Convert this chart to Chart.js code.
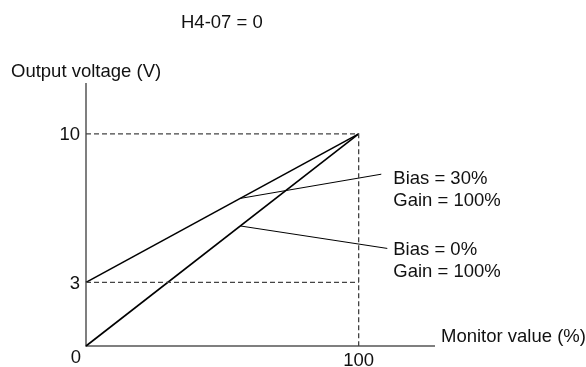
<!DOCTYPE html>
<html lang="en">
<head>
<meta charset="UTF-8">
<title>H4-07 = 0</title>
<script src="https://cdn.jsdelivr.net/npm/chart.js@4.4.1/dist/chart.umd.min.js"></script>
<style>
  body { margin: 0; background: #fff; }
  #wrap { width: 586px; height: 367px; }
</style>
</head>
<body>
<div id="wrap"><canvas id="myChart"></canvas></div>
<script>
// data
const monitorPct = [0, 100];        // x (%)
const bias30Volt = [3, 10];         // y (V), bias 30%
const bias0Volt = [0, 10];          // y (V), bias 0%
const yTicks = [0, 3, 10];
const xTicks = [100];
const labels30 = ['Bias = 30%', 'Gain = 100%'];
const labels0 = ['Bias = 0%', 'Gain = 100%'];
// leader lines: from a point on the curve out to the label
const leader30 = [[56.6, 6.96], [108.3, 8.1]];
const leader0 = [[56.6, 5.66], [110.5, 4.6]];
const xMax = 128, yMax = 12.4;

const FONT = '18.5px "Liberation Sans", Arial, sans-serif';
const toXY = (xs, ys) => xs.map((x, i) => ({ x: x, y: ys[i] }));
const ptsXY = pts => pts.map(p => ({ x: p[0], y: p[1] }));

const lineStyle = (data, color, width, dash) => ({
  data: data,
  borderColor: color,
  borderWidth: width,
  borderDash: dash || [],
  pointRadius: 0,
  showLine: true,
  fill: false,
  tension: 0,
  clip: false
});

const textPlugin = {
  id: 'texts',
  beforeDatasetsDraw(chart) {
    const ctx = chart.ctx;
    const xs = chart.scales.x, ys = chart.scales.y;
    const x0 = xs.getPixelForValue(0), y0 = ys.getPixelForValue(0);
    ctx.save();
    ctx.strokeStyle = '#555';
    ctx.lineWidth = 1.5;
    ctx.beginPath();
    ctx.moveTo(x0, ys.getPixelForValue(yMax));
    ctx.lineTo(x0, y0);
    ctx.lineTo(xs.getPixelForValue(xMax), y0);
    ctx.stroke();
    ctx.restore();
  },
  afterDraw(chart) {
    const ctx = chart.ctx;
    const xs = chart.scales.x, ys = chart.scales.y;
    const x0 = xs.getPixelForValue(0), y0 = ys.getPixelForValue(0);
    ctx.save();
    ctx.font = FONT;
    ctx.fillStyle = '#111';
    ctx.textBaseline = 'alphabetic';

    // title & axis names
    ctx.textAlign = 'left';
    ctx.fillText('H4-07 = 0', 181, 28);
    ctx.fillText('Output voltage (V)', 11, 77);
    ctx.fillText('Monitor value (%)', xs.getPixelForValue(xMax) + 6, y0 - 4);

    // y tick labels
    ctx.textAlign = 'right';
    yTicks.forEach(v => {
      if (v === 0) return;
      ctx.fillText(String(v), x0 - 6, ys.getPixelForValue(v) + 6.5);
    });
    ctx.fillText('0', x0 - 5, y0 + 17);

    // x tick labels
    ctx.textAlign = 'center';
    xTicks.forEach(v => {
      ctx.fillText(String(v), xs.getPixelForValue(v), y0 + 20);
    });

    // series labels at the end of the leaders
    ctx.textAlign = 'left';
    const put = (lines, end, dx, dy) => {
      const px = xs.getPixelForValue(end[0]) + dx;
      const py = ys.getPixelForValue(end[1]) + dy;
      lines.forEach((t, i) => ctx.fillText(t, px, py + i * 22));
    };
    put(labels30, leader30[1], 12, 10);
    put(labels0, leader0[1], 6, 6.5);
    ctx.restore();
  }
};

const ctx = document.getElementById('myChart').getContext('2d');
new Chart(ctx, {
  type: 'scatter',
  data: {
    datasets: [
      lineStyle([{ x: 0, y: 10 }, { x: 100, y: 10 }, { x: 100, y: 0 }], '#444', 1.3, [5, 3]),
      lineStyle([{ x: 0, y: 3 }, { x: 100, y: 3 }], '#444', 1.3, [5, 3]),
      lineStyle(toXY(monitorPct, bias30Volt), '#000', 1.6),
      lineStyle(toXY(monitorPct, bias0Volt), '#000', 1.6),
      lineStyle(ptsXY(leader30), '#000', 1),
      lineStyle(ptsXY(leader0), '#000', 1)
    ]
  },
  options: {
    responsive: true,
    maintainAspectRatio: false,
    animation: false,
    layout: { padding: { left: 86, right: 151, top: 83, bottom: 21 } },
    plugins: { legend: { display: false }, tooltip: { enabled: false }, title: { display: false } },
    scales: {
      x: { type: 'linear', min: 0, max: xMax, display: false },
      y: { type: 'linear', min: 0, max: yMax, display: false }
    }
  },
  plugins: [textPlugin]
});
</script>
</body>
</html>
